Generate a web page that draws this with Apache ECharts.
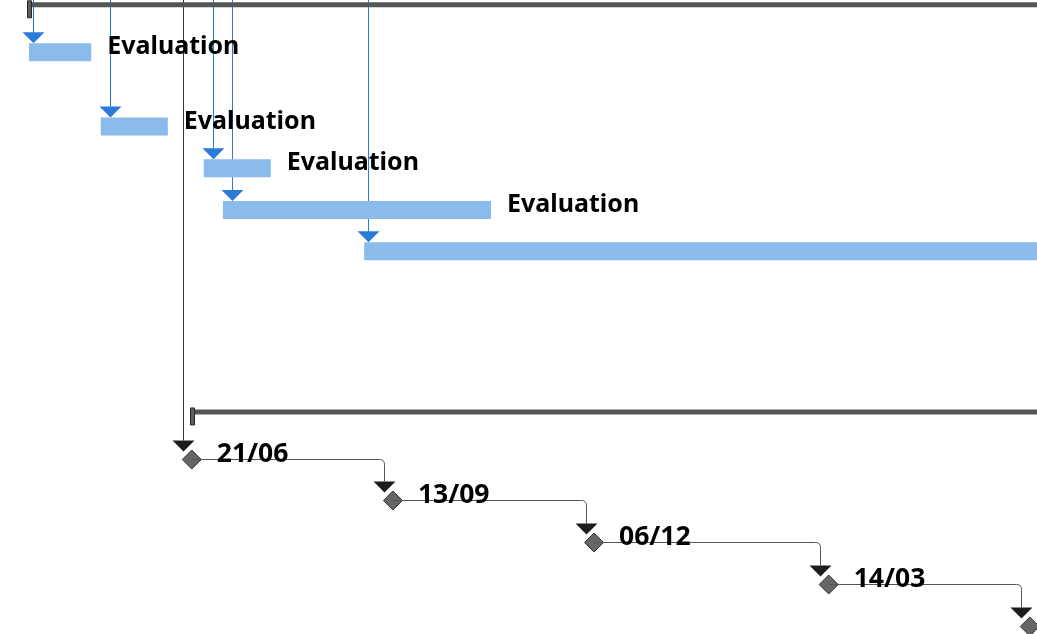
<!DOCTYPE html>
<html>
<head>
<meta charset="utf-8">
<script src="https://cdn.jsdelivr.net/npm/echarts@6/dist/echarts.min.js"></script>
<style>
  html, body { margin: 0; padding: 0; background: #fff; }
  #chart { width: 1037px; height: 634px; }
</style>
</head>
<body>
<div id="chart"></div>
<script>
// ---- Schedule data ----
const taskNames  = ['Evaluation', 'Evaluation', 'Evaluation', 'Evaluation', 'Evaluation'];
const taskStart  = ['2024-04-14', '2024-05-14', '2024-06-26', '2024-07-04', '2024-09-01'];
const taskEnd    = ['2024-05-10', '2024-06-11', '2024-07-24', '2024-10-24', '2025-08-29'];
const taskRow    = [1.25, 3.03, 4.03, 5.03, 6.02];
// date at which each task's incoming dependency drops onto it
const taskLinkAt = ['2024-04-16', '2024-05-18', '2024-06-30', '2024-07-08', '2024-09-03'];

const summaryStart = ['2024-04-14', '2024-06-21'];
const summaryEnd   = ['2025-08-29', '2025-09-30'];
const summaryRow   = [0.115, 9.87];

const milestoneDates = ['2024-06-21', '2024-09-13', '2024-12-06', '2025-03-14', '2025-06-06'];
const milestoneRow   = [11, 12, 13, 14, 15];

// visible window
const viewStart = '2024-04-01T21:50:00';
const viewEnd   = '2025-06-09T00:00:00';
const rowSpan   = 15.19;

// ---- Styles ----
const BAR_H = 18;
const BAR_COLOR = '#8abbeb';
const LINK_BLUE = '#2b7cd6';
const SUMMARY_COLOR = '#555555';
const DARK = '#1c1c1c';
const TASK_FONT = 'bold 25px "Noto Sans", "Open Sans", sans-serif';
const MILESTONE_FONT = 'bold 26.5px "Noto Sans", "Open Sans", sans-serif';

const t = s => +new Date(s.length === 10 ? s + 'T00:00:00' : s);
const ddmm = s => s.slice(8, 10) + '/' + s.slice(5, 7);
const crisp = v => Math.round(v - 0.5) + 0.5;

function renderLink(params, api) {
  const x = crisp(api.coord([api.value(0), api.value(1)])[0]);
  const barTop = api.coord([api.value(0), api.value(1)])[1] - BAR_H / 2;
  const top = params.coordSys.y;
  return {
    type: 'group',
    children: [
      { type: 'line', shape: { x1: x, y1: top, x2: x, y2: barTop - 6 },
        style: { stroke: LINK_BLUE, lineWidth: 1 } },
      { type: 'polygon', shape: { points: [[x - 11, barTop - 11], [x + 11, barTop - 11], [x, barTop]] },
        style: { fill: LINK_BLUE } }
    ]
  };
}

function renderSummary(params, api) {
  const s = api.coord([api.value(0), api.value(2)]);
  const e = api.coord([api.value(1), api.value(2)]);
  const barTop = s[1] - 2.5;
  return {
    type: 'group',
    children: [
      { type: 'rect', shape: { x: s[0], y: barTop, width: e[0] - s[0], height: 5 },
        style: { fill: SUMMARY_COLOR } },
      { type: 'rect', shape: { x: Math.round(s[0] - 2) + 0.5, y: barTop - 1.5, width: 4, height: 17 },
        style: { fill: '#5e5e5e', stroke: '#2a2a2a', lineWidth: 1 } }
    ]
  };
}

function renderTask(params, api) {
  const i = params.dataIndex;
  const s = api.coord([api.value(0), api.value(2)]);
  const e = api.coord([api.value(1), api.value(2)]);
  return {
    type: 'group',
    children: [
      { type: 'rect', shape: { x: s[0], y: s[1] - BAR_H / 2, width: e[0] - s[0], height: BAR_H },
        style: { fill: BAR_COLOR } },
      { type: 'text', style: { text: taskNames[i], x: e[0] + 16, y: s[1] - 5,
        font: TASK_FONT, fill: '#000', verticalAlign: 'middle', align: 'left' } }
    ]
  };
}

function renderMilestone(params, api) {
  const i = params.dataIndex;
  const p = api.coord([api.value(0), api.value(1)]);
  const cy = crisp(p[1]);
  const ax = crisp(p[0] - 8);
  const children = [];
  if (i === 0) {
    children.push({ type: 'line', shape: { x1: ax, y1: params.coordSys.y, x2: ax, y2: cy - 19 },
      style: { stroke: '#333', lineWidth: 1 } });
  }
  children.push({ type: 'polygon',
    shape: { points: [[ax - 11, cy - 19], [ax + 11, cy - 19], [ax, cy - 8]] },
    style: { fill: DARK } });
  children.push({ type: 'polygon',
    shape: { points: [[p[0], cy - 9.5], [p[0] + 9.5, cy], [p[0], cy + 9.5], [p[0] - 9.5, cy]] },
    style: { fill: '#666', stroke: '#333', lineWidth: 1 } });
  if (i < milestoneDates.length - 1) {
    const q = api.coord([t(milestoneDates[i + 1]), milestoneRow[i + 1]]);
    const qx = crisp(q[0] - 8);
    const qTop = crisp(q[1]) - 19;
    const r = 5;
    children.push({ type: 'path',
      shape: { pathData: `M ${p[0]} ${cy} L ${qx - r} ${cy} Q ${qx} ${cy} ${qx} ${cy + r} L ${qx} ${qTop}` },
      style: { stroke: '#555', lineWidth: 1, fill: null } });
  }
  children.push({ type: 'text', style: { text: ddmm(milestoneDates[i]), x: p[0] + 25, y: cy - 5,
    font: MILESTONE_FONT, fill: '#000', verticalAlign: 'middle', align: 'left' } });
  return { type: 'group', children };
}

const chart = echarts.init(document.getElementById('chart'), null, { renderer: 'canvas' });
chart.setOption({
  animation: false,
  backgroundColor: '#fff',
  grid: { left: 0, right: 0, top: 0, bottom: 0 },
  xAxis: { type: 'time', min: t(viewStart), max: t(viewEnd), show: false },
  yAxis: { type: 'value', inverse: true, min: 0, max: rowSpan, show: false },
  series: [
    { type: 'custom', name: 'links', renderItem: renderLink, encode: { x: 0, y: 1 },
      data: taskLinkAt.map((d, i) => [t(d), taskRow[i]]) },
    { type: 'custom', name: 'milestones', renderItem: renderMilestone, encode: { x: 0, y: 1 },
      data: milestoneDates.map((d, i) => [t(d), milestoneRow[i]]) },
    { type: 'custom', name: 'summaries', renderItem: renderSummary, encode: { x: [0, 1], y: 2 },
      data: summaryStart.map((d, i) => [t(d), t(summaryEnd[i]), summaryRow[i]]) },
    { type: 'custom', name: 'tasks', renderItem: renderTask, encode: { x: [0, 1], y: 2 },
      data: taskStart.map((d, i) => [t(d), t(taskEnd[i]), taskRow[i]]) }
  ]
});
</script>
</body>
</html>
